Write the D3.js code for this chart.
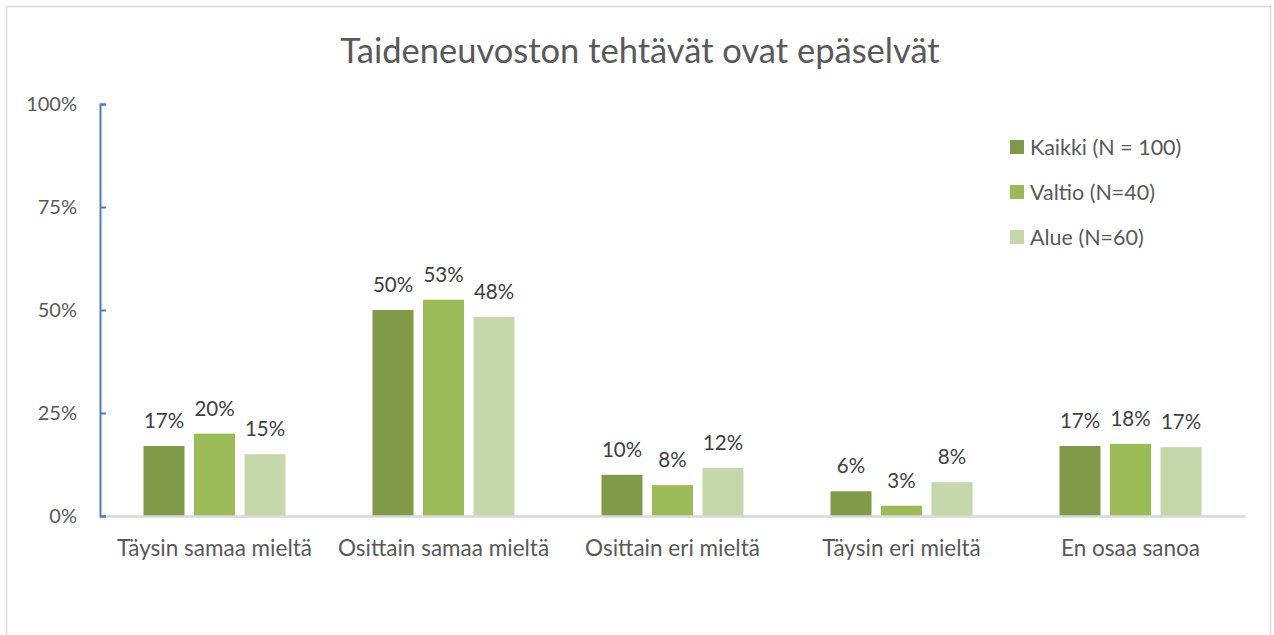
<!DOCTYPE html>
<html>
<head>
<meta charset="utf-8">
<script src="https://cdn.jsdelivr.net/npm/d3@7"></script>
<style>
  html, body { margin: 0; padding: 0; background: #fff; }
  svg { display: block; font-family: Lato, "Open Sans", sans-serif; }
</style>
</head>
<body>
<svg id="chart" width="1274" height="635"></svg>
<script>
const title = "Taideneuvoston tehtävät ovat epäselvät";
const categories = ["Täysin samaa mieltä", "Osittain samaa mieltä", "Osittain eri mieltä", "Täysin eri mieltä", "En osaa sanoa"];
const seriesNames = ["Kaikki (N = 100)", "Valtio (N=40)", "Alue (N=60)"];
const kaikki = [17, 50, 10, 6, 17];
const valtio = [20, 52.5, 7.5, 2.5, 17.5];
const alue = [15, 48.3, 11.7, 8.2, 16.7];
const yTicks = [0, 25, 50, 75, 100];
const colors = ["#7f9a48", "#9bbb59", "#c6d7ac"];

const series = [kaikki, valtio, alue];
const svg = d3.select("#chart");
const FONT = "Lato, 'Open Sans', sans-serif";

// outer border
svg.append("rect").attr("x", 6.5).attr("y", 6.5).attr("width", 1264).attr("height", 640)
  .attr("fill", "#fff").attr("stroke", "#d9d9d9").attr("stroke-width", 1.5);

const plot = { left: 100, right: 1245, top: 104, bottom: 516 };

const x = d3.scaleBand().domain(categories).range([plot.left, plot.right]).paddingInner(0).paddingOuter(0);
const y = d3.scaleLinear().domain([0, 100]).range([plot.bottom, plot.top]);

const barW = 41, step = 50.5;
const xs = d3.scaleBand().domain(d3.range(series.length))
  .range([-(step * 3 - (step - barW)) / 2, (step * 3 - (step - barW)) / 2])
  .paddingInner((step - barW) / step).paddingOuter(0);

// title
svg.append("text").attr("x", 640).attr("y", 63).attr("text-anchor", "middle")
  .attr("font-size", 34.5).attr("fill", "#595959").text(title);

// bars
series.forEach((vals, si) => {
  const g = svg.append("g");
  g.selectAll("rect").data(vals).join("rect")
    .attr("x", (d, i) => x(categories[i]) + x.bandwidth() / 2 + xs(si))
    .attr("y", d => y(d))
    .attr("width", xs.bandwidth())
    .attr("height", d => y(0) - y(d))
    .attr("fill", colors[si]);
  g.selectAll("text").data(vals).join("text")
    .attr("x", (d, i) => x(categories[i]) + x.bandwidth() / 2 + xs(si) + xs.bandwidth() / 2)
    .attr("y", d => y(d) - 18)
    .attr("text-anchor", "middle")
    .attr("font-size", 20.5).attr("fill", "#404040")
    .text(d => Math.round(d) + "%");
});

// x axis baseline
const xAxis = d3.axisBottom(x).tickSize(0).tickPadding(24);
const xg = svg.append("g").attr("transform", `translate(0,${plot.bottom})`).call(xAxis);
xg.select(".domain").attr("stroke", "#d9d9d9").attr("stroke-width", 2.5);
xg.selectAll("text").attr("font-size", 22.5).attr("fill", "#595959").attr("font-family", FONT);

// y axis
const yAxis = d3.axisRight(y).tickValues(yTicks).tickSize(6).tickSizeOuter(6).tickFormat(d => d + "%");
const yg = svg.append("g").attr("transform", `translate(${plot.left},0)`).call(yAxis);
yg.select(".domain").attr("stroke", "#4a7ebb").attr("stroke-width", 2);
yg.selectAll(".tick line").attr("stroke", "#4a7ebb").attr("stroke-width", 2);
yg.selectAll(".tick text").attr("x", -23).attr("text-anchor", "end")
  .attr("font-size", 20).attr("fill", "#595959").attr("font-family", FONT);

// legend
const lg = svg.append("g").attr("transform", "translate(1010,140)");
seriesNames.forEach((name, i) => {
  const row = lg.append("g").attr("transform", `translate(0,${i * 45})`);
  row.append("rect").attr("width", 14).attr("height", 14).attr("fill", colors[i]);
  row.append("text").attr("x", 20).attr("y", 7).attr("dy", "0.35em")
    .attr("font-size", 21.5).attr("fill", "#595959").text(name);
});
</script>
</body>
</html>
